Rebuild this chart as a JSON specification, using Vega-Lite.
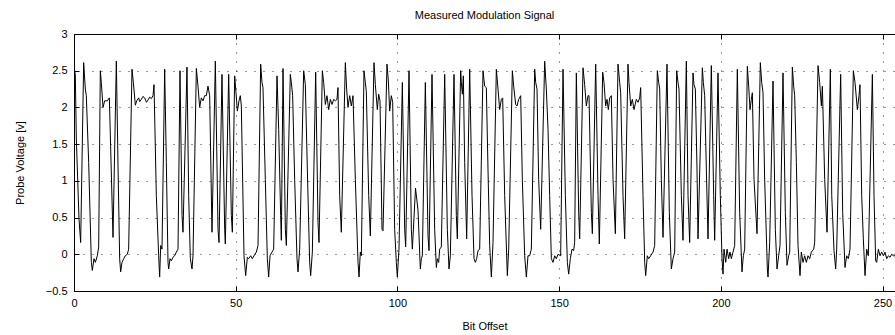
{
"$schema": "https://vega.github.io/schema/vega-lite/v6.json",
"width": 821, "height": 257,
"autosize": {"type": "none"},
"padding": {"left": 74, "top": 34, "right": 0, "bottom": 44},
"background": "white",
"title": {"text": "Measured Modulation Signal", "fontSize": 11, "fontWeight": "normal", "font": "Liberation Sans", "color": "black", "offset": 7},
"config": {
 "view": {"stroke": null},
 "axis": {"labelFont": "Liberation Sans", "labelFontSize": 11, "labelColor": "black", "labelOverlap": false, "titleFont": "Liberation Sans", "titleFontSize": 11, "titleFontWeight": "normal", "titleColor": "black", "domainColor": "black", "domainWidth": 1, "tickColor": "black", "tickSize": -5, "gridColor": "black", "gridDash": [1, 8], "gridOpacity": 0.8, "gridWidth": 1}
},
"data": {"values": [
{"b":0,"v":2.55},{"b":0.41,"v":2.45},{"b":0.72,"v":1.57},{"b":1.55,"v":0.48},{"b":2.06,"v":0.16},{"b":2.99,"v":2.61},{"b":3.5,"v":2.25},{"b":3.81,"v":2.16},{"b":4.54,"v":1.25},{"b":5.36,"v":-0.11},{"b":5.67,"v":-0.22},{"b":6.18,"v":-0.06},{"b":6.6,"v":-0.11},{"b":7.21,"v":-0.02},{"b":7.63,"v":0.1},{"b":8.14,"v":2.5},{"b":8.45,"v":2.34},{"b":8.97,"v":2.0},{"b":9.48,"v":2.09},{"b":10.31,"v":2.09},{"b":10.93,"v":2.13},{"b":12.06,"v":0.23},{"b":13.09,"v":2.63},{"b":13.61,"v":1.2},{"b":14.12,"v":-0.06},{"b":14.43,"v":-0.24},{"b":14.84,"v":-0.11},{"b":15.36,"v":-0.06},{"b":15.87,"v":-0.02},{"b":16.49,"v":0.0},{"b":16.9,"v":0.07},{"b":17.93,"v":2.52},{"b":18.35,"v":2.34},{"b":18.97,"v":2.03},{"b":19.38,"v":2.09},{"b":20.0,"v":2.13},
{"b":20.3,"v":2.08},{"b":20.82,"v":2.11},{"b":21.3,"v":2.15},{"b":21.85,"v":2.13},{"b":22.4,"v":2.07},{"b":22.88,"v":2.1},{"b":23.4,"v":2.14},{"b":23.91,"v":2.12},{"b":24.43,"v":2.16},{"b":24.74,"v":2.31},{"b":25.46,"v":0.8},{"b":26.18,"v":-0.02},{"b":26.49,"v":-0.31},{"b":26.8,"v":0.12},{"b":27.21,"v":0.07},{"b":28.04,"v":2.52},{"b":28.55,"v":1.25},{"b":29.07,"v":-0.11},{"b":29.27,"v":-0.2},{"b":29.68,"v":-0.06},{"b":30.1,"v":-0.09},{"b":30.61,"v":-0.04},{"b":31.13,"v":-0.02},{"b":31.64,"v":0.03},{"b":32.16,"v":0.07},{"b":32.78,"v":2.5},{"b":33.4,"v":0.53},{"b":33.7,"v":0.3},{"b":34.94,"v":2.55},{"b":35.46,"v":0.8},{"b":35.97,"v":-0.06},{"b":36.49,"v":-0.2},{"b":36.8,"v":-0.02},{"b":37.83,"v":2.53},{"b":38.34,"v":2.29},{"b":38.86,"v":2.0},{"b":39.37,"v":2.13},{"b":39.89,"v":2.09},{"b":40.4,"v":2.16},{"b":40.92,"v":2.16},{"b":41.43,"v":2.29},
{"b":41.95,"v":2.16},{"b":42.67,"v":0.3},{"b":43.7,"v":2.63},{"b":44.53,"v":0.34},{"b":44.84,"v":0.16},{"b":45.76,"v":2.45},{"b":46.59,"v":0.34},{"b":46.79,"v":0.14},{"b":47.83,"v":2.45},{"b":48.65,"v":0.53},{"b":48.96,"v":0.3},{"b":49.68,"v":2.43},{"b":50.09,"v":2.2},{"b":50.51,"v":1.95},{"b":51.02,"v":2.09},{"b":51.43,"v":2.16},{"b":51.74,"v":2.02},{"b":52.57,"v":-0.02},{"b":53.08,"v":-0.29},{"b":53.6,"v":-0.04},{"b":54.01,"v":-0.06},{"b":54.63,"v":-0.02},{"b":55.14,"v":-0.06},{"b":55.66,"v":-0.02},{"b":56.38,"v":0.03},{"b":56.9,"v":0.12},{"b":57.72,"v":2.59},{"b":58.13,"v":2.34},{"b":58.44,"v":2.27},{"b":59.16,"v":1.02},{"b":59.78,"v":-0.06},{"b":60.19,"v":-0.31},{"b":60.61,"v":-0.02},{"b":61.22,"v":0.03},{"b":61.74,"v":0.07},{"b":62.77,"v":2.43},{"b":63.29,"v":1.7},
{"b":63.9,"v":0.53},{"b":64.11,"v":0.19},{"b":64.63,"v":2.53},{"b":65.35,"v":0.34},{"b":65.66,"v":0.12},{"b":66.89,"v":2.45},{"b":67.2,"v":2.34},{"b":67.61,"v":2.16},{"b":68.23,"v":1.02},{"b":68.95,"v":-0.06},{"b":69.26,"v":-0.24},{"b":69.78,"v":0.07},{"b":71.02,"v":2.5},{"b":71.53,"v":2.31},{"b":72.15,"v":1.16},{"b":72.87,"v":-0.11},{"b":73.18,"v":-0.29},{"b":73.7,"v":0.03},{"b":74.73,"v":2.48},{"b":75.45,"v":0.43},{"b":75.76,"v":0.16},{"b":76.79,"v":2.5},{"b":77.2,"v":2.34},{"b":77.72,"v":2.04},{"b":78.23,"v":2.16},{"b":78.75,"v":1.97},{"b":79.26,"v":2.11},{"b":79.78,"v":2.04},{"b":80.29,"v":2.11},{"b":80.81,"v":2.09},{"b":81.32,"v":2.11},{"b":81.63,"v":2.27},{"b":82.15,"v":0.8},{"b":82.66,"v":0.3},{"b":83.9,"v":2.61},{"b":84.31,"v":2.25},{"b":84.72,"v":2.0},
{"b":85.24,"v":2.16},{"b":85.76,"v":2.02},{"b":86.27,"v":2.16},{"b":86.99,"v":1.02},{"b":87.82,"v":-0.11},{"b":88.13,"v":-0.31},{"b":88.54,"v":0.03},{"b":88.85,"v":-0.02},{"b":89.67,"v":2.5},{"b":90.08,"v":2.34},{"b":90.39,"v":2.22},{"b":91.12,"v":0.8},{"b":91.63,"v":0.25},{"b":92.76,"v":2.61},{"b":93.18,"v":2.31},{"b":93.79,"v":1.97},{"b":94.21,"v":2.18},{"b":94.62,"v":2.09},{"b":95.24,"v":0.34},{"b":95.55,"v":0.32},{"b":96.78,"v":2.59},{"b":97.2,"v":2.36},{"b":97.61,"v":1.95},{"b":98.12,"v":2.16},{"b":98.54,"v":2.07},{"b":99.15,"v":0.34},{"b":99.67,"v":-0.11},{"b":99.98,"v":-0.31},{"b":100.49,"v":0.07},{"b":101.53,"v":2.34},{"b":102.25,"v":0.34},{"b":102.56,"v":0.1},{"b":103.59,"v":2.5},{"b":104.31,"v":0.34},{"b":104.62,"v":0.07},{"b":105.6,"v":0.9},{"b":106.37,"v":0.6},
{"b":107.09,"v":-0.2},{"b":107.4,"v":-0.06},{"b":107.71,"v":-0.02},{"b":108.64,"v":2.34},{"b":109.46,"v":0.25},{"b":109.77,"v":0.05},{"b":110.7,"v":2.45},{"b":111.52,"v":0.34},{"b":112.04,"v":-0.18},{"b":112.35,"v":-0.06},{"b":112.76,"v":-0.11},{"b":113.07,"v":0.07},{"b":113.58,"v":0.1},{"b":114.62,"v":2.45},{"b":115.44,"v":0.34},{"b":115.95,"v":-0.2},{"b":116.37,"v":-0.02},{"b":117.5,"v":2.45},{"b":118.22,"v":0.53},{"b":118.53,"v":0.21},{"b":119.56,"v":2.5},{"b":119.77,"v":2.34},{"b":120.08,"v":2.18},{"b":120.39,"v":2.43},{"b":120.8,"v":1.25},{"b":121.42,"v":0.21},{"b":122.35,"v":2.52},{"b":123.07,"v":0.8},{"b":123.69,"v":-0.06},{"b":124.1,"v":-0.11},{"b":124.51,"v":-0.06},{"b":124.92,"v":0.05},{"b":125.44,"v":0.07},{"b":126.47,"v":2.5},{"b":126.98,"v":2.29},{"b":127.5,"v":2.27},{"b":128.01,"v":1.16},
{"b":128.53,"v":0.12},{"b":129.05,"v":-0.31},{"b":129.56,"v":0.16},{"b":130.59,"v":2.52},{"b":131.11,"v":2.25},{"b":131.62,"v":1.97},{"b":132.14,"v":2.11},{"b":132.55,"v":2.13},{"b":133.17,"v":0.8},{"b":133.99,"v":-0.29},{"b":134.41,"v":0.07},{"b":135.54,"v":2.5},{"b":135.95,"v":2.29},{"b":136.57,"v":2.04},{"b":136.98,"v":2.02},{"b":137.5,"v":2.11},{"b":138.12,"v":2.16},{"b":138.63,"v":1.02},{"b":139.35,"v":-0.02},{"b":139.87,"v":-0.31},{"b":140.38,"v":-0.02},{"b":140.9,"v":-0.02},{"b":141.41,"v":0.07},{"b":142.45,"v":2.52},{"b":142.76,"v":2.34},{"b":143.17,"v":2.25},{"b":143.68,"v":1.02},{"b":144.3,"v":0.34},{"b":145.54,"v":2.63},{"b":146.05,"v":2.25},{"b":146.57,"v":1.7},{"b":147.08,"v":0.8},{"b":147.6,"v":-0.06},{"b":148.11,"v":-0.11},{"b":148.63,"v":-0.02},{"b":149.14,"v":-0.06},{"b":149.66,"v":0.0},
{"b":150.48,"v":-0.02},{"b":151.21,"v":2.52},{"b":151.93,"v":0.8},{"b":152.55,"v":-0.11},{"b":152.96,"v":-0.27},{"b":153.47,"v":-0.06},{"b":153.99,"v":0.07},{"b":154.5,"v":0.05},{"b":154.81,"v":0.16},{"b":155.33,"v":2.47},{"b":156.05,"v":0.57},{"b":156.36,"v":0.21},{"b":157.39,"v":2.54},{"b":157.9,"v":2.31},{"b":158.42,"v":2.02},{"b":158.94,"v":2.16},{"b":159.25,"v":2.16},{"b":159.97,"v":0.57},{"b":160.28,"v":0.28},{"b":161.31,"v":2.59},{"b":162.03,"v":0.8},{"b":162.44,"v":0.14},{"b":163.47,"v":2.48},{"b":163.88,"v":2.34},{"b":164.4,"v":2.02},{"b":164.81,"v":2.11},{"b":165.22,"v":1.97},{"b":165.64,"v":2.13},{"b":166.15,"v":2.16},{"b":166.67,"v":1.02},{"b":167.39,"v":0.28},{"b":168.21,"v":2.59},{"b":168.73,"v":2.34},{"b":169.04,"v":2.2},{"b":169.76,"v":0.8},{"b":170.27,"v":0.21},{"b":171.3,"v":2.59},
{"b":171.61,"v":2.34},{"b":172.13,"v":2.02},{"b":172.64,"v":2.11},{"b":173.16,"v":1.97},{"b":173.88,"v":2.11},{"b":174.4,"v":2.07},{"b":174.91,"v":2.13},{"b":175.22,"v":2.27},{"b":175.94,"v":0.8},{"b":176.46,"v":-0.11},{"b":176.77,"v":-0.29},{"b":177.28,"v":-0.02},{"b":177.7,"v":-0.06},{"b":178.31,"v":-0.02},{"b":179.04,"v":0.03},{"b":179.55,"v":0.12},{"b":180.37,"v":2.5},{"b":180.79,"v":2.34},{"b":181.1,"v":2.25},{"b":181.61,"v":1.02},{"b":182.13,"v":0.23},{"b":183.36,"v":2.59},{"b":184.08,"v":0.57},{"b":184.7,"v":-0.2},{"b":185.22,"v":-0.06},{"b":185.74,"v":0.03},{"b":186.35,"v":2.5},{"b":186.77,"v":2.34},{"b":187.07,"v":2.25},{"b":187.8,"v":0.8},{"b":188.31,"v":0.19},{"b":189.34,"v":2.63},{"b":189.86,"v":0.8},{"b":190.37,"v":0.16},{"b":191.4,"v":2.47},{"b":191.71,"v":2.31},{"b":192.13,"v":2.25},{"b":192.64,"v":1.16},
{"b":192.95,"v":0.21},{"b":194.29,"v":2.54},{"b":194.6,"v":2.34},{"b":195.01,"v":2.16},{"b":195.53,"v":1.16},{"b":196.04,"v":0.21},{"b":197.07,"v":2.57},{"b":197.79,"v":0.8},{"b":198.1,"v":0.19},{"b":199.13,"v":2.47},{"b":199.85,"v":0.8},{"b":200.37,"v":-0.06},{"b":200.68,"v":-0.27},{"b":200.99,"v":0.07},{"b":201.51,"v":-0.11},{"b":201.92,"v":0.07},{"b":202.43,"v":-0.06},{"b":202.84,"v":0.03},{"b":203.26,"v":-0.06},{"b":203.77,"v":0.03},{"b":204.29,"v":0.12},{"b":205.11,"v":2.52},{"b":205.83,"v":0.57},{"b":206.55,"v":-0.24},{"b":206.97,"v":-0.02},{"b":207.38,"v":0.07},{"b":208.2,"v":2.56},{"b":208.62,"v":2.29},{"b":209.03,"v":1.97},{"b":209.44,"v":2.11},{"b":209.75,"v":2.2},{"b":210.27,"v":1.02},{"b":211.19,"v":0.28},{"b":212.22,"v":2.61},{"b":212.64,"v":2.34},{"b":213.05,"v":2.2},{"b":213.56,"v":1.02},{"b":214.39,"v":-0.2},
{"b":214.6,"v":-0.31},{"b":215.11,"v":0.16},{"b":216.14,"v":2.36},{"b":216.86,"v":0.34},{"b":217.38,"v":-0.2},{"b":217.89,"v":-0.02},{"b":218.31,"v":0.12},{"b":219.23,"v":2.47},{"b":219.95,"v":0.57},{"b":220.47,"v":-0.15},{"b":220.99,"v":-0.02},{"b":221.3,"v":0.03},{"b":222.12,"v":2.55},{"b":222.53,"v":2.29},{"b":222.84,"v":2.16},{"b":223.36,"v":1.25},{"b":223.87,"v":0.12},{"b":224.49,"v":-0.29},{"b":224.9,"v":0.03},{"b":225.42,"v":-0.11},{"b":225.93,"v":-0.02},{"b":226.45,"v":-0.11},{"b":226.96,"v":-0.02},{"b":227.48,"v":-0.06},{"b":227.99,"v":0.03},{"b":228.72,"v":0.07},{"b":229.03,"v":0.16},{"b":230.06,"v":2.57},{"b":230.57,"v":2.34},{"b":231.09,"v":2.02},{"b":231.4,"v":2.29},{"b":232.12,"v":1.02},{"b":232.84,"v":0.3},{"b":233.87,"v":2.52},
{"b":234.3,"v":0.8},{"b":235.0,"v":0.05},{"b":235.52,"v":-0.2},{"b":235.83,"v":0.07},{"b":237.06,"v":2.45},{"b":237.68,"v":0.57},{"b":238.4,"v":-0.18},{"b":238.92,"v":-0.02},{"b":239.43,"v":-0.06},{"b":239.95,"v":0.07},{"b":240.98,"v":2.5},{"b":241.5,"v":2.34},{"b":242.22,"v":1.97},{"b":242.73,"v":2.16},{"b":243.04,"v":2.31},{"b":243.56,"v":0.8},{"b":244.07,"v":0.21},{"b":244.59,"v":-0.29},{"b":245.11,"v":0.07},{"b":245.62,"v":-0.02},{"b":246.86,"v":2.45},{"b":247.37,"v":0.8},{"b":247.89,"v":-0.09},{"b":248.2,"v":-0.11},{"b":248.71,"v":0.07},{"b":249.23,"v":-0.02},{"b":249.74,"v":0.03},{"b":250.26,"v":-0.02},{"b":250.77,"v":0.03},{"b":251.29,"v":-0.06},{"b":251.8,"v":-0.02},{"b":252.32,"v":-0.04},{"b":252.83,"v":0.0},{"b":253.35,"v":-0.02},{"b":253.86,"v":-0.02}
]},
"layer": [
 {"mark": {"type": "line", "color": "black", "strokeWidth": 1, "clip": true},
  "encoding": {
   "x": {"field": "b", "type": "quantitative", "scale": {"domain": [0, 253.86], "nice": false, "zero": false},
         "axis": {"orient": "bottom", "title": "Bit Offset", "values": [0, 50, 100, 150, 200, 250], "grid": true, "labelPadding": 11, "titlePadding": 12, "labelFlush": false}},
   "y": {"field": "v", "type": "quantitative", "scale": {"domain": [-0.5, 3], "nice": false, "zero": false},
         "axis": {"title": "Probe Voltage [v]", "values": [-0.5, 0, 0.5, 1, 1.5, 2, 2.5, 3], "format": "~g", "grid": true, "labelPadding": 12, "titlePadding": 20, "labelFlush": false}}
  }},
 {"mark": {"type": "line", "opacity": 0},
  "encoding": {
   "x": {"field": "b", "type": "quantitative", "axis": {"orient": "top", "labels": false, "title": null, "grid": false, "values": [0, 50, 100, 150, 200, 250]}},
   "y": {"field": "v", "type": "quantitative", "axis": {"title": "Probe Voltage [v]", "values": [-0.5, 0, 0.5, 1, 1.5, 2, 2.5, 3], "format": "~g", "grid": true, "labelPadding": 12, "titlePadding": 20, "labelFlush": false}}
  }}
],
"resolve": {"axis": {"x": "independent"}}
}
